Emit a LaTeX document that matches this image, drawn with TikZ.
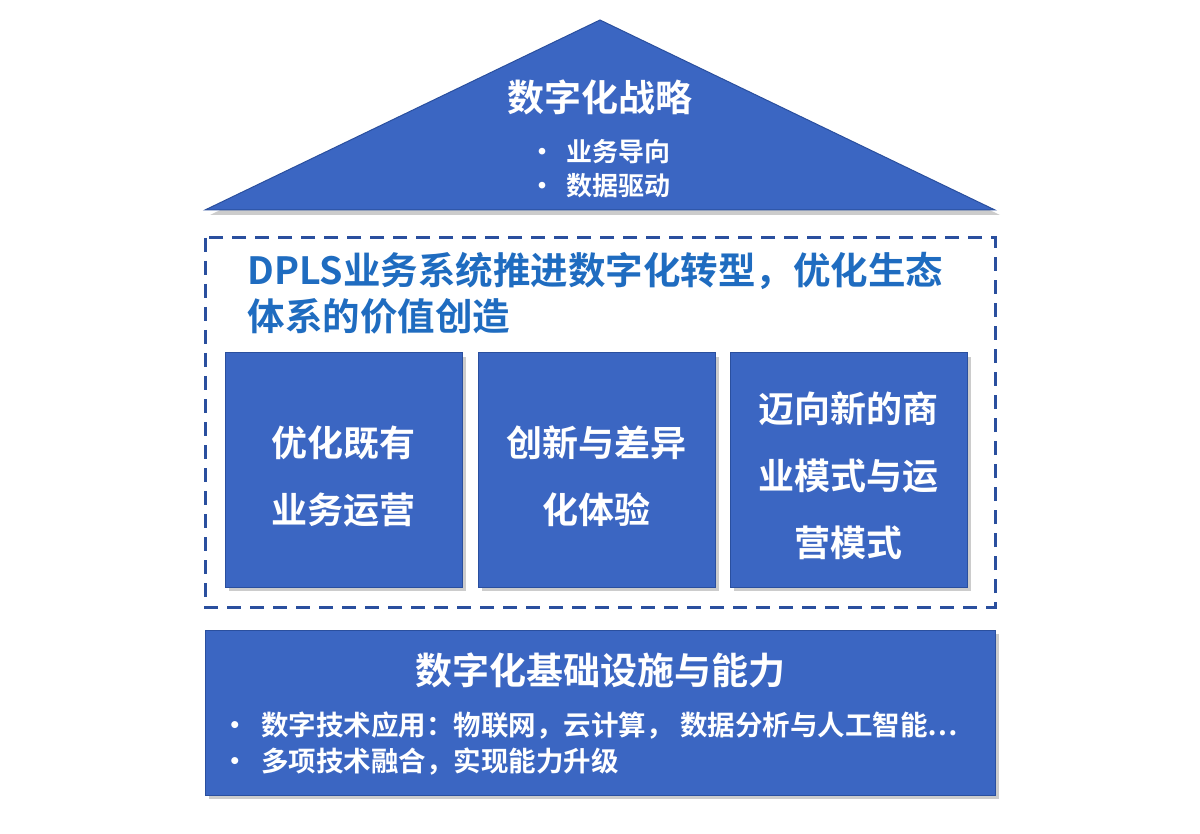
\documentclass[tikz,border=0pt]{standalone}
\usepackage{fontspec}
\setmainfont{Noto Sans CJK SC Bold}
\definecolor{roofblue}{HTML}{3B66C2}
\definecolor{edgeblue}{HTML}{2A4F9E}
\definecolor{headblue}{HTML}{1F6CC0}
\tikzset{
  block/.style={fill=roofblue,draw=edgeblue,line width=1pt},
  boxtext/.style={text=white,font=\fontsize{36}{67}\selectfont,align=center},
}
\begin{document}
\begin{tikzpicture}[x=1pt,y=-1pt]
  \useasboundingbox[fill=white] (0,0) rectangle (1200,834);
  % roof
  \fill[gray!40] (604,25) -- (1000,215) -- (210,215) -- cycle;
  \draw[block] (600,20) -- (995,210) -- (205,210) -- cycle;
  \node[text=white,font=\fontsize{37}{40}\selectfont] (strat) at (600,97) {数字化战略};
  \node[text=white,font=\fontsize{26}{34}\selectfont,align=left] (stratpts) at (600,169) {•\ \ 业务导向\\•\ \ 数据驱动};
  % middle frame
  \draw[edgeblue,line width=3pt,dash pattern=on 14pt off 9pt] (205,238) rectangle (995,607);
  \node[text=headblue,font=\fontsize{37.5}{46}\selectfont,align=left,anchor=north west] (head) at (244,249)
    {DPLS业务系统推进数字化转型，优化生态\\体系的价值创造};
  \foreach \x/\name/\txt in {225/optim/{优化既有\\业务运营},478/innov/{创新与差异\\化体验},730/newbiz/{迈向新的商\\业模式与运\\营模式}}{
    \fill[gray!40] (\x+4,357) rectangle (\x+241,591);
    \draw[block] (\x,353) rectangle (\x+237,587);
    \node[boxtext] (\name) at (\x+118.5,476) {\txt};
  }
  % base
  \fill[gray!40] (209,634) rectangle (999,799);
  \draw[block] (205,630) rectangle (995,795);
  \node[text=white,font=\fontsize{37}{40}\selectfont] (infra) at (600,670) {数字化基础设施与能力};
  \node[text=white,font=\fontsize{27.5}{36}\selectfont,align=left,anchor=west] (infrapts) at (218,744)
    {•\ \ 数字技术应用：物联网，云计算，\ 数据分析与人工智能…\\•\ \ 多项技术融合，实现能力升级};
\end{tikzpicture}
\end{document}
